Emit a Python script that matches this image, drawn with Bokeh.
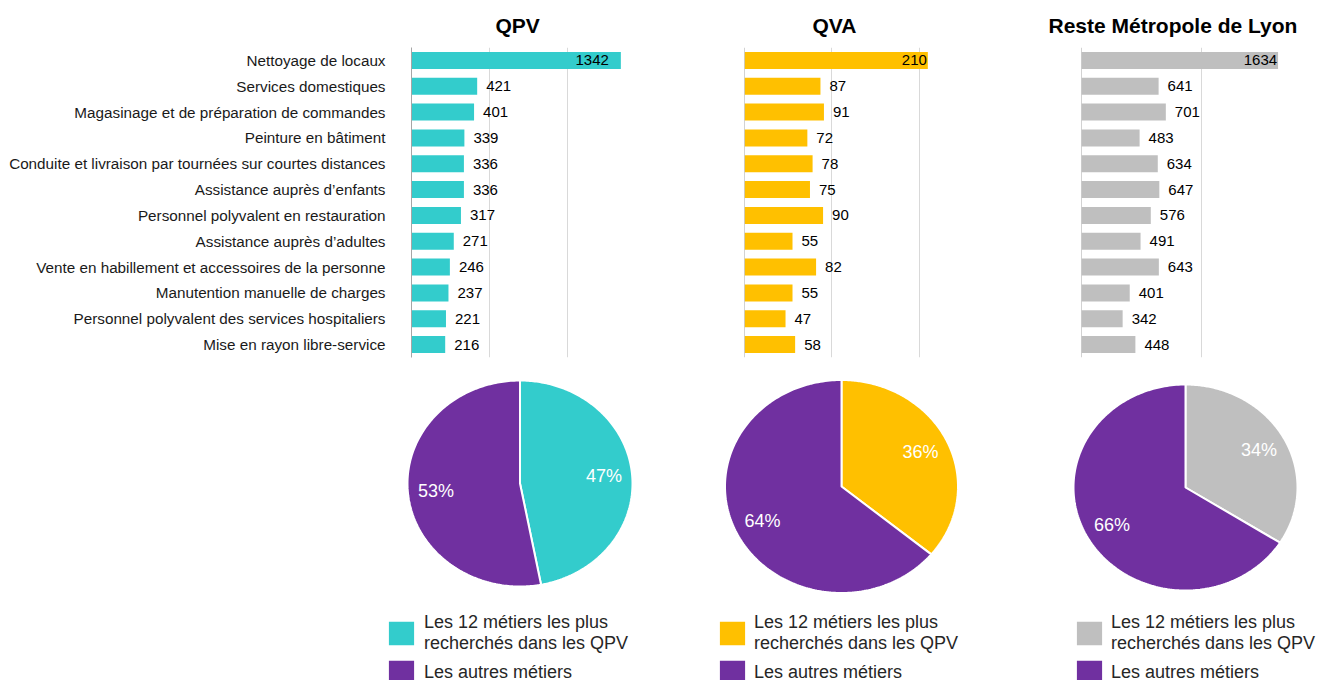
import numpy as np
from bokeh.plotting import figure
from bokeh.layouts import row, column
from bokeh.models import (FactorRange, Range1d, FixedTicker, Span, ColumnDataSource,
                          Legend, LegendItem)
from bokeh.core.properties import value
from bokeh.embed import file_html
from bokeh.resources import INLINE

# ---------------- data ----------------
metiers = [
    "Nettoyage de locaux",
    "Services domestiques",
    "Magasinage et de préparation de commandes",
    "Peinture en bâtiment",
    "Conduite et livraison par tournées sur courtes distances",
    "Assistance auprès d’enfants",
    "Personnel polyvalent en restauration",
    "Assistance auprès d’adultes",
    "Vente en habillement et accessoires de la personne",
    "Manutention manuelle de charges",
    "Personnel polyvalent des services hospitaliers",
    "Mise en rayon libre-service",
]
qpv = [1342, 421, 401, 339, 336, 336, 317, 271, 246, 237, 221, 216]
qva = [210, 87, 91, 72, 78, 75, 90, 55, 82, 55, 47, 58]
reste = [1634, 641, 701, 483, 634, 647, 576, 491, 643, 401, 342, 448]

titles = ["QPV", "QVA", "Reste Métropole de Lyon"]
grid_qpv = [500, 1000]
grid_qva = [100, 200]
grid_reste = [1000]

part_qpv = [47, 53]
part_qva = [36, 64]
part_reste = [34, 66]
part_labels = ["Les 12 métiers les plus\nrecherchés dans les QPV", "Les autres métiers"]

# ---------------- style ----------------
TEAL = "#33CCCC"
YELLOW = "#FFC000"
GREY = "#BFBFBF"
PURPLE = "#7030A0"
FONT = "Liberation Sans"
AXIS_GREY = "#A6A6A6"
GRID_GREY = "#D9D9D9"

TOP_H = 362
FRAME_TOP = 46
FRAME_H = 311
BOT_TOP = 362
BOT_H = 318


def bar_fig(vals, ticks, px_per_unit, title, title_offset, total_w, border_l, frame_w,
            color, first_offset, show_labels):
    xmax = frame_w / px_per_unit
    p = figure(width=total_w, height=TOP_H,
               y_range=FactorRange(factors=list(reversed(metiers))),
               x_range=Range1d(0, xmax),
               output_backend="svg", toolbar_location=None,
               min_border_left=border_l, min_border_right=total_w - border_l - frame_w,
               min_border_top=FRAME_TOP, min_border_bottom=TOP_H - FRAME_TOP - FRAME_H)
    p.outline_line_color = None
    p.xaxis.visible = False
    p.ygrid.visible = False
    p.xgrid.ticker = FixedTicker(ticks=ticks)
    p.xgrid.grid_line_color = GRID_GREY
    p.xgrid.grid_line_width = 1

    p.title.text = title
    p.title.align = "left"
    p.title.offset = title_offset
    p.title.standoff = 22
    p.title.text_font = FONT
    p.title.text_font_size = "21px"
    p.title.text_font_style = "bold"
    p.title.text_color = "#000000"

    if show_labels:
        ax = p.yaxis[0]
        ax.major_tick_line_color = None
        ax.minor_tick_line_color = None
        ax.major_tick_out = 0
        ax.major_tick_in = 0
        ax.axis_line_color = AXIS_GREY
        ax.major_label_standoff = 26
        ax.major_label_text_font = FONT
        ax.major_label_text_font_size = "15.25px"
        ax.major_label_text_color = "#1a1a1a"
    else:
        p.yaxis.visible = False
        p.add_layout(Span(location=0, dimension="height", line_color=AXIS_GREY, line_width=1))

    p.hbar(y=metiers, right=vals, height=0.66, fill_color=color, line_color=None)

    first = ColumnDataSource(dict(y=metiers[:1], x=vals[:1], t=[str(v) for v in vals[:1]]))
    rest = ColumnDataSource(dict(y=metiers[1:], x=vals[1:], t=[str(v) for v in vals[1:]]))
    p.text(x="x", y="y", text="t", source=first, x_offset=first_offset,
           text_align="right", text_baseline="middle", text_font=value(FONT),
           text_font_size="15px", text_color="#000000")
    p.text(x="x", y="y", text="t", source=rest, x_offset=9,
           text_align="left", text_baseline="middle", text_font=value(FONT),
           text_font_size="15px", text_color="#000000")
    return p


def pie_fig(shares, color, fig_left, total_w, cx, cy, rx, ry, legend_x, legend_y, standoff):
    # page coordinates -> data ranges so the pie is centred at (0, 0) with unit radius
    bottom_page = BOT_TOP + BOT_H
    xr = Range1d(-(cx - fig_left) / rx, (fig_left + total_w - cx) / rx)
    yr = Range1d(-(bottom_page - cy) / ry, (cy - BOT_TOP) / ry)
    p = figure(width=total_w, height=BOT_H, x_range=xr, y_range=yr,
               output_backend="svg", toolbar_location=None,
               min_border=0)
    p.axis.visible = False
    p.grid.visible = False
    p.outline_line_color = None

    total = float(sum(shares))
    fracs = np.array(shares) / total
    bounds = np.concatenate([[0.0], np.cumsum(fracs)]) * 2 * np.pi
    colors = [color, PURPLE]
    rends = []
    for i in range(len(shares)):
        t = np.linspace(bounds[i], bounds[i + 1], 200)
        xs = np.concatenate([[0.0], np.sin(t), [0.0]])
        ys = np.concatenate([[0.0], np.cos(t), [0.0]])
        r = p.patch(xs, ys, fill_color=colors[i], line_color="white", line_width=2)
        rends.append(r)

    mids = (bounds[:-1] + bounds[1:]) / 2
    lab = ColumnDataSource(dict(x=0.75 * np.sin(mids), y=0.75 * np.cos(mids),
                                t=[f"{s}%" for s in shares]))
    p.text(x="x", y="y", text="t", source=lab, text_align="center", text_baseline="middle",
           text_font=value(FONT), text_font_size="18px", text_color="white")

    legend = Legend(items=[LegendItem(label=part_labels[i], renderers=[rends[i]]) for i in range(2)],
                    location=(legend_x, legend_y))
    legend.glyph_width = 34
    legend.glyph_height = 32
    legend.label_standoff = standoff
    legend.spacing = 2
    legend.padding = 0
    legend.margin = 0
    legend.border_line_color = None
    legend.background_fill_alpha = 0
    legend.label_text_font = FONT
    legend.label_text_font_size = "18px"
    legend.label_text_color = "#262626"
    legend.label_text_line_height = 1.0
    p.add_layout(legend)
    return p


a = bar_fig(qpv, grid_qpv, 0.156, titles[0], 84, 680, 411, 212, TEAL, -12, True)
b = bar_fig(qva, grid_qva, 0.873, titles[1], 68, 320, 64, 186, YELLOW, -1, False)
c = bar_fig(reste, grid_reste, 0.1203, titles[2], -33, 332, 81, 209, GREY, -1, False)

d = pie_fig(part_qpv, TEAL, 0, 680, 519.5, 483, 112.5, 103, 384, -8, 6)
e = pie_fig(part_qva, YELLOW, 680, 320, 841, 486, 116.5, 106.5, 35, -8, 5)
f = pie_fig(part_reste, GREY, 1000, 332, 1185, 487, 112, 103, 72, -8, 5)

layout = column(row(a, b, c), row(d, e, f))
open("out.html", "w").write(file_html(layout, INLINE))
